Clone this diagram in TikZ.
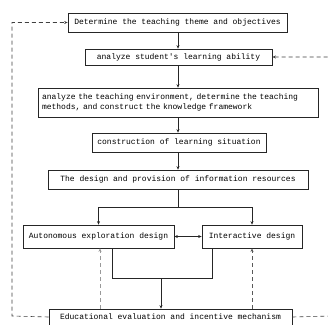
\documentclass[tikz,border=0pt]{standalone}
\usepackage{fontspec}
\setmonofont{Liberation Mono}
\usetikzlibrary{arrows.meta}
\tikzset{
  stepbox/.style={draw=black!85, line width=0.7pt, text=black, font=\ttfamily\fontsize{8}{10}\selectfont, inner sep=0pt, minimum height=19pt},
  flow/.style={-{Stealth[length=3.5pt,width=3pt]}, line width=0.7pt, black!85},
  fb/.style={-{Stealth[length=3.5pt,width=3pt]}, line width=0.6pt, dash pattern=on 4pt off 3pt, black!75},
  fbup/.style={fb, line width=0.8pt, black!40}
}
\begin{document}
\begin{tikzpicture}[x=1pt,y=-1pt]
\useasboundingbox[fill=white] (0,0) rectangle (328,324);
\node[stepbox, minimum width=219pt] (theme) at (177.5,22.5) {Determine the teaching theme and objectives};
\node[stepbox, minimum width=187pt, minimum height=16pt] (ability) at (178.5,57) {analyze student's learning ability};
\node[stepbox, minimum width=280pt, minimum height=29pt, text width=272pt, align=left] (env) at (178,102.5) {analyze the teaching environment, determine the teaching\\methods, and construct the knowledge framework};
\node[stepbox, minimum width=174pt] (situation) at (179,142.5) {construction of learning situation};
\node[stepbox, minimum width=260pt] (resources) at (178,179.5) {The design and provision of information resources};
\node[stepbox, minimum width=151pt, minimum height=23pt] (explore) at (98.5,236.5) {Autonomous exploration design};
\node[stepbox, minimum width=100pt, minimum height=23pt] (interact) at (252,236.5) {Interactive design};
\node[stepbox, minimum width=243pt, minimum height=16pt] (evaluate) at (170.5,317) {Educational evaluation and incentive mechanism};
% main flow
\draw[flow] (theme.south -| 178,0) -- (ability.north -| 178,0);
\draw[flow] (ability.south -| 178,0) -- (env.north -| 178,0);
\draw[flow] (env.south -| 178,0) -- (situation.north -| 178,0);
\draw[flow] (situation.south -| 178,0) -- (resources.north -| 178,0);
\coordinate (split) at (178,207);
\draw[line width=0.7pt, black!85] (resources.south) -- (split);
\draw[line width=0.7pt, black!85] (split -| explore) -- (split -| interact);
\draw[flow] (split -| explore) -- (explore.north);
\draw[flow] (split -| interact) -- (interact.north);
\draw[{Stealth[length=3.5pt,width=3pt]}-{Stealth[length=3.5pt,width=3pt]}, line width=0.7pt, black!85] (explore.east) -- (interact.west);
% merge
\coordinate (mergeL) at (112,278);
\coordinate (mergeR) at (212,278);
\coordinate (merge) at (161,278);
\draw[line width=0.7pt, black!85] (explore.south -| mergeL) -- (mergeL) -- (mergeR) -- (interact.south -| mergeR);
\draw[flow] (merge) -- (evaluate.north -| merge);
% feedback
\draw[fbup] (evaluate.north -| 100,0) -- (explore.south -| 100,0);
\draw[fbup, black!65] (evaluate.north -| interact) -- (interact.south);
\coordinate (backL) at (12,316);
\coordinate (backR) at (331,316);
\draw[fb] (evaluate.west) -- (backL) |- (theme.west);
\draw[fb] (evaluate.east) -- (backR) |- (ability.east);
\end{tikzpicture}
\end{document}
